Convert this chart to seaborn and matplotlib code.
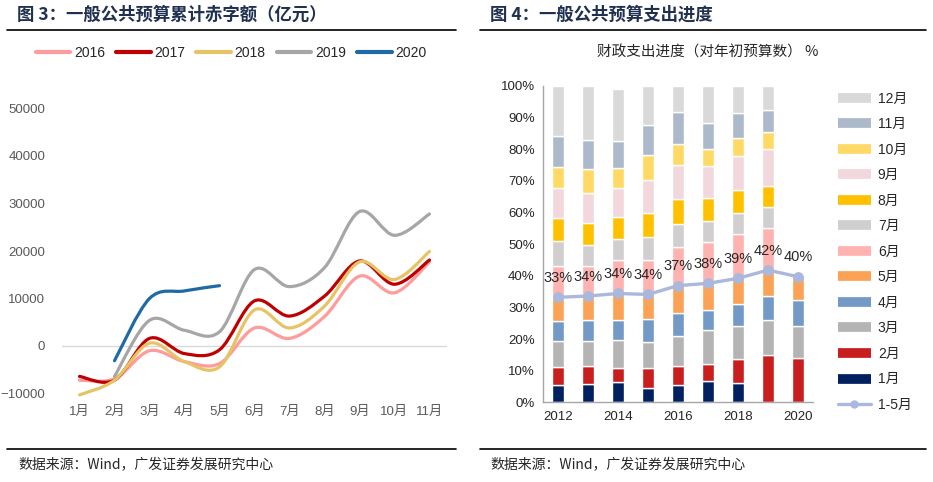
import numpy as np
import matplotlib
matplotlib.use('Agg')
import matplotlib.pyplot as plt
from matplotlib.path import Path
from matplotlib.patches import PathPatch
from matplotlib.lines import Line2D
import seaborn as sns

# ---- 图3 数据：一般公共预算累计赤字额（亿元）
months = ['1月', '2月', '3月', '4月', '5月', '6月', '7月', '8月', '9月', '10月', '11月']
deficit_2016 = [-7200, -6900, -1000, -3300, -3700, 3800, 1600, 6200, 14700, 11200, 17700]
deficit_2017 = [-6400, -7200, 1600, -1600, -800, 9500, 6300, 10500, 17900, 13000, 18100]
deficit_2018 = [-10300, -7200, 600, -3300, -4400, 7600, 3800, 8400, 17700, 14000, 19900]
deficit_2019 = [np.nan, -6400, 5400, 3300, 3000, 16100, 12500, 16500, 28300, 23300, 27800]
deficit_2020 = [np.nan, -3100, 10000, 11600, 12700, np.nan, np.nan, np.nan, np.nan, np.nan, np.nan]
deficit_series = {'2016': deficit_2016, '2017': deficit_2017, '2018': deficit_2018,
                  '2019': deficit_2019, '2020': deficit_2020}
deficit_colors = {'2016': '#FF9B9B', '2017': '#C00000', '2018': '#E6C465',
                  '2019': '#A6A6A6', '2020': '#1F6AA5'}

# ---- 图4 数据：支出进度（累计，%）
years = ['2012', '2013', '2014', '2015', '2016', '2017', '2018', '2019', '2020']
progress_1_5 = [33.2, 33.6, 34.4, 34.1, 36.9, 37.6, 39.2, 41.8, 39.7]
cum_by_month = {
    '1月': [5.5, 5.8, 6.4, 4.5, 5.5, 6.7, 6.1, 0, 0],
    '2月': [11.3, 11.6, 10.9, 10.9, 11.6, 12.1, 13.7, 14.8, 14.1],
    '3月': [19.4, 19.4, 19.7, 19.1, 21.1, 22.7, 24.2, 26.1, 24.2],
    '4月': [25.8, 26.1, 26.1, 26.4, 28.3, 29.3, 31.2, 33.7, 32.5],
    '5月': progress_1_5,
    '6月': [43.2, 43.2, 45.1, 45.1, 49.1, 50.7, 53.3, 55.2, np.nan],
    '7月': [51.0, 49.7, 51.6, 52.3, 56.4, 57.3, 59.9, 61.7, np.nan],
    '8月': [58.4, 56.7, 58.6, 59.9, 64.3, 64.6, 67.1, 68.4, np.nan],
    '9月': [67.9, 66.2, 67.8, 70.3, 75.0, 74.7, 77.9, 80.1, np.nan],
    '10月': [74.4, 73.8, 74.1, 78.2, 81.7, 80.1, 83.6, 85.5, np.nan],
    '11月': [84.2, 82.9, 82.6, 87.7, 91.8, 88.3, 91.5, 92.4, np.nan],
    '12月': [100, 100, 99.1, 100, 100, 100, 100, 100, np.nan],
}
month_colors = ['#002060', '#C81E1E', '#B4B4B4', '#7399C6', '#FBA256', '#FFB3B0',
                '#D0CECE', '#FFC000', '#F2D8DC', '#FFD966', '#ACB9CA', '#D9D9D9']
line_color = '#A9B8DC'

sns.set_theme(style='white')
plt.rcParams['font.family'] = ['Liberation Sans', 'Noto Sans CJK SC', 'DejaVu Sans']
cjk = ['Noto Sans CJK SC', 'DejaVu Sans']

W, H = 933, 482
fig = plt.figure(figsize=(W / 100, H / 100), dpi=100)


def fx(px):
    return px / W


def fy(py):
    return 1 - py / H


def smooth_path(xs, ys):
    # Excel 风格的平滑线（贝塞尔曲线）
    P = np.array([(x, y) for x, y in zip(xs, ys) if not np.isnan(y)], float)
    verts, codes = [P[0]], [Path.MOVETO]
    for i in range(len(P) - 1):
        p0 = P[i - 1] if i > 0 else P[i]
        p3 = P[i + 2] if i + 2 < len(P) else P[i + 1]
        verts += [P[i] + (P[i + 1] - p0) / 6, P[i + 1] - (p3 - P[i]) / 6, P[i + 1]]
        codes += [Path.CURVE4] * 3
    return Path(verts, codes)


# ---------------- 左图 ----------------
ax1 = fig.add_axes([fx(62), fy(393.5), fx(447 - 62), (393.5 - 61) / H])
x = np.arange(len(months))
for name, vals in deficit_series.items():
    patch = PathPatch(smooth_path(x, vals), fill=False, edgecolor=deficit_colors[name],
                      lw=2.3, capstyle='round', clip_on=False, zorder=3)
    ax1.add_patch(patch)
ax1.axhline(0, color='#D9D9D9', lw=1, zorder=1)
ax1.set_xlim(-0.5, 10.5)
ax1.set_ylim(-10000, 60000)
ax1.set_yticks([-10000, 0, 10000, 20000, 30000, 40000, 50000])
ax1.set_xticks(x)
ax1.set_xticklabels(months)
ax1.tick_params(axis='both', length=0, labelsize=9.5, colors='#595959')
ax1.tick_params(axis='y', pad=12)
ax1.tick_params(axis='x', pad=9)
for s in ax1.spines.values():
    s.set_visible(False)

handles1 = [Line2D([], [], color=deficit_colors[k], lw=3) for k in deficit_series]
fig.legend(handles1, list(deficit_series), loc='center', ncol=5, frameon=False,
           bbox_to_anchor=(fx(231), fy(53)), fontsize=10, handlelength=2.5,
           handletextpad=0.25, columnspacing=0.8)

# ---------------- 右图 ----------------
ax2 = fig.add_axes([fx(543), fy(402.3), fx(813 - 543), (402.3 - 86) / H])
pos = np.arange(len(years))
prev = np.zeros(len(years))
for (m, cum), c in zip(cum_by_month.items(), month_colors):
    cum = np.array(cum, float)
    ok = ~np.isnan(cum)
    ax2.bar(pos[ok], (cum - prev)[ok], bottom=prev[ok], width=0.4, color=c, zorder=2)
    prev = np.where(ok, cum, prev)

sns.lineplot(x=pos, y=progress_1_5, ax=ax2, color=line_color, lw=2.4, marker='o',
             markersize=7, markeredgecolor=line_color, zorder=4)
for p, v in zip(pos, progress_1_5):
    ax2.annotate(f'{v:.0f}%', (p, v), xytext=(0, 14), textcoords='offset points',
                 ha='center', va='center', fontsize=10.5, color='#262626', zorder=5)

ax2.set_xlim(-0.5, 8.5)
ax2.set_ylim(0, 100)
ax2.set_yticks(np.arange(0, 101, 10))
ax2.set_yticklabels([f'{v}%' for v in range(0, 101, 10)])
ax2.set_xticks(pos)
ax2.set_xticklabels([y if i % 2 == 0 else '' for i, y in enumerate(years)])
ax2.set_xticks([-0.5, 1.5, 3.5, 5.5, 7.5], minor=True)
ax2.tick_params(axis='both', which='major', length=0, labelsize=9.5, colors='#262626')
ax2.tick_params(axis='x', which='major', pad=6)
ax2.tick_params(axis='y', pad=6)
ax2.tick_params(axis='x', which='minor', length=5, width=1, color='#A6A6A6', direction='out')
for s in ['top', 'right']:
    ax2.spines[s].set_visible(False)
for s in ['left', 'bottom']:
    ax2.spines[s].set_color('#A6A6A6')
    ax2.spines[s].set_linewidth(1)
ax2.grid(False)

labels2 = list(cum_by_month)[::-1] + ['1-5月']
handles2 = [Line2D([], [], color=c, lw=7, solid_capstyle='butt') for c in month_colors[::-1]]
handles2.append(Line2D([], [], color=line_color, lw=2.4, marker='o', markersize=5))
fig.legend(handles2, labels2, loc='upper left', bbox_to_anchor=(fx(832), fy(86)),
           frameon=False, fontsize=10, handlelength=2.4, handletextpad=0.5,
           labelspacing=0.83, borderaxespad=0)

fig.text(fx(708), fy(53), '财政支出进度（对年初预算数） %', ha='center', va='center',
         fontsize=10.5, family=cjk, color='#262626')

# ---------------- 标题、分隔线、来源 ----------------
title_color = '#1F3050'
fig.text(fx(17), fy(15), '图 3：一般公共预算累计赤字额（亿元）', ha='left', va='center',
         fontsize=12.5, fontweight='bold', color=title_color, family=cjk)
fig.text(fx(490), fy(15), '图 4：一般公共预算支出进度', ha='left', va='center',
         fontsize=12.5, fontweight='bold', color=title_color, family=cjk)
for x0, x1 in [(7, 456), (480, 926)]:
    fig.add_artist(Line2D([fx(x0), fx(x1)], [fy(29.5), fy(29.5)], color='black', lw=1.2))
    fig.add_artist(Line2D([fx(x0), fx(x1)], [fy(449), fy(449)], color='black', lw=1.2))
for x0 in [18, 490]:
    fig.text(fx(x0), fy(464), '数据来源：Wind，广发证券发展研究中心', ha='left', va='center',
             fontsize=10, color='#262626', family=cjk)

fig.savefig('out.png', dpi=100)
